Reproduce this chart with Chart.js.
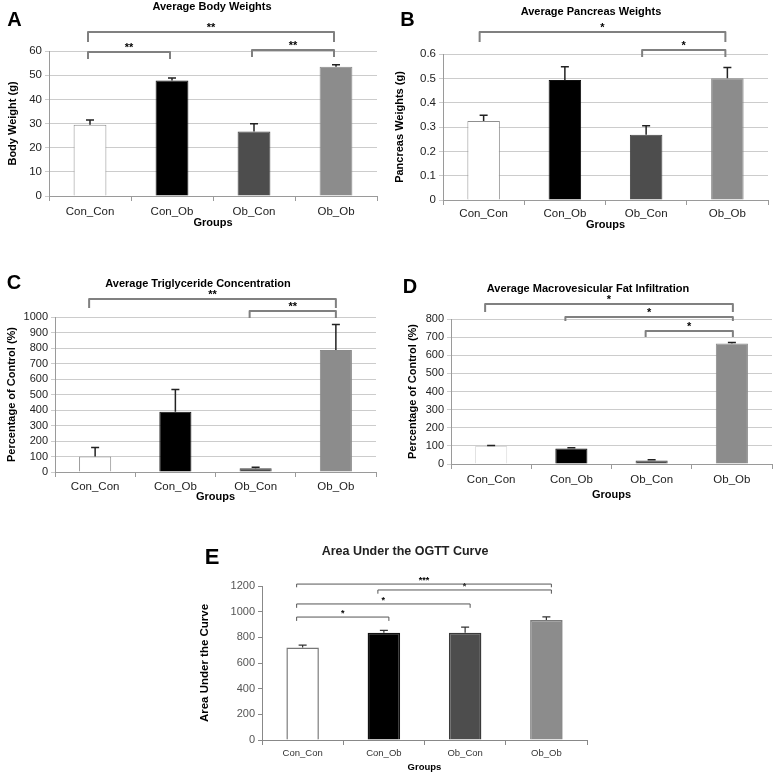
<!DOCTYPE html>
<html><head><meta charset="utf-8">
<script src="https://cdn.jsdelivr.net/npm/chart.js@4"></script>
<style>
html,body{margin:0;padding:0;background:#fff;}
#wrap{position:relative;width:776px;height:777px;overflow:hidden;background:#fff;}
canvas{position:absolute;}
</style></head><body>
<div id="wrap">
<canvas id="cA" width="385" height="235" style="left:0px;top:0px"></canvas>
<canvas id="cB" width="391" height="235" style="left:385px;top:0px"></canvas>
<canvas id="cC" width="385" height="260" style="left:0px;top:250px"></canvas>
<canvas id="cD" width="391" height="260" style="left:385px;top:250px"></canvas>
<canvas id="cE" width="420" height="247" style="left:180px;top:530px"></canvas>
</div>
<script>
// ---- data ----
const categories = ['Con_Con', 'Con_Ob', 'Ob_Con', 'Ob_Ob'];

const bodyWeight = [29.5, 47.8, 26.7, 53.5];
const bodyWeightErr = [2.0, 1.0, 3.2, 0.8];
const bodyWeightSig = [[0, 3, '**'], [0, 1, '**'], [2, 3, '**']];

const pancreasWeight = [0.325, 0.493, 0.268, 0.500];
const pancreasErr = [0.023, 0.055, 0.037, 0.045];
const pancreasSig = [[0, 3, '*'], [2, 3, '*']];

const triglyceride = [100, 388, 25, 787];
const triglycerideErr = [58, 144, 6, 165];
const triglycerideSig = [[0, 3, '**'], [2, 3, '**']];

const fatInfiltration = [100, 85, 20, 665];
const fatInfiltrationErr = [2, 4, 3, 5];
const fatInfiltrationSig = [[0, 3, '*'], [1, 3, '*'], [2, 3, '*']];

const ogttAuc = [720, 835, 835, 935];
const ogttAucErr = [20, 20, 45, 25];
const ogttAucSig = [[0, 1, '*'], [0, 2, '*'], [1, 3, '*'], [0, 3, '***']];

const bodyWeightTicks = {max: 60, step: 10, digits: 0};
const pancreasTicks = {max: 0.6, step: 0.1, digits: 1};
const triglycerideTicks = {max: 1000, step: 100, digits: 0};
const fatInfiltrationTicks = {max: 800, step: 100, digits: 0};
const ogttAucTicks = {max: 1200, step: 200, digits: 0};

// ---- style ----
const FAMILY = '"Liberation Sans", Arial, Helvetica, sans-serif';
Chart.defaults.font.family = FAMILY;
const barFill = ['#ffffff', '#000000', '#4d4d4d', '#8c8c8c'];

function makeDecor(cfg) {
  return {
    id: 'panelDecor',
    afterDatasetsDraw(chart) {
      const ctx = chart.ctx;
      const meta = chart.getDatasetMeta(0);
      const ys = chart.scales.y;
      ctx.save();
      ctx.strokeStyle = cfg.errColor;
      ctx.lineWidth = cfg.errWidth;
      meta.data.forEach((bar, i) => {
        const yTop = ys.getPixelForValue(cfg.values[i] + cfg.errors[i]);
        ctx.beginPath();
        ctx.moveTo(bar.x, bar.y);
        ctx.lineTo(bar.x, yTop);
        ctx.moveTo(bar.x - cfg.cap, yTop);
        ctx.lineTo(bar.x + cfg.cap, yTop);
        ctx.stroke();
      });
      ctx.restore();
    },
    afterDraw(chart) {
      const ctx = chart.ctx;
      const xs = chart.scales.x, ys = chart.scales.y;
      ctx.save();
      // brackets
      ctx.strokeStyle = cfg.sigColor;
      ctx.lineWidth = cfg.sigWidth;
      ctx.lineJoin = 'round';
      ctx.fillStyle = '#000';
      ctx.font = 'bold ' + cfg.starSize + 'px ' + FAMILY;
      ctx.textAlign = 'center';
      ctx.textBaseline = 'alphabetic';
      cfg.sig.forEach((s, k) => {
        const lv = cfg.sigLevels[k];
        const x1 = xs.getPixelForValue(s[0]) + cfg.sigShift[0];
        const x2 = xs.getPixelForValue(s[1]) + cfg.sigShift[1];
        const y = ys.getPixelForValue(lv[0]);
        const yd = ys.getPixelForValue(lv[1]);
        ctx.beginPath();
        ctx.moveTo(x1, yd); ctx.lineTo(x1, y); ctx.lineTo(x2, y); ctx.lineTo(x2, yd);
        ctx.stroke();
        ctx.fillText(s[2], (x1 + x2) / 2, y - cfg.starGap);
      });
      // title
      ctx.fillStyle = cfg.titleColor;
      ctx.font = 'bold ' + cfg.titleSize + 'px ' + FAMILY;
      ctx.textBaseline = 'middle';
      ctx.fillText(cfg.title, cfg.titlePos[0], cfg.titlePos[1]);
      // panel letter
      ctx.fillStyle = '#000';
      ctx.font = 'bold ' + cfg.letterSize + 'px ' + FAMILY;
      ctx.fillText(cfg.letter, cfg.letterPos[0], cfg.letterPos[1]);
      ctx.restore();
    }
  };
}

function makePanel(id, cfg) {
  return new Chart(document.getElementById(id), {
    type: 'bar',
    data: {
      labels: categories,
      datasets: [{
        data: cfg.values,
        backgroundColor: barFill,
        borderColor: cfg.borders,
        borderWidth: cfg.borderWidth,
        barPercentage: 0.5,
        categoryPercentage: 0.8
      }]
    },
    options: {
      responsive: false,
      animation: false,
      events: [],
      layout: {padding: {top: cfg.padTop, right: cfg.padRight, left: 0, bottom: 0}},
      plugins: {legend: {display: false}, tooltip: {enabled: false}, title: {display: false}},
      scales: {
        x: {
          grid: {display: true, drawOnChartArea: false, drawTicks: true, tickLength: 5, color: cfg.axisColor, offset: true},
          border: {color: cfg.axisColor, width: 1},
          ticks: {font: {size: cfg.xFont}, color: cfg.tickColor, padding: cfg.xPad, maxRotation: 0, autoSkip: false},
          title: {display: true, text: 'Groups', color: '#000', font: {size: cfg.xTitleSize, weight: 'bold'}, padding: {top: 0, bottom: cfg.xTitlePad}},
          afterFit: s => { s.height = cfg.xH; }
        },
        y: {
          min: 0, max: cfg.ticks.max,
          ticks: {stepSize: cfg.ticks.step, autoSkip: false, font: {size: cfg.yFont}, color: cfg.yTickColor, padding: 3,
            callback: v => String(Number(Number(v).toFixed(cfg.ticks.digits)))},
          grid: {color: cfg.gridColor, drawOnChartArea: cfg.gridOn, tickLength: 4, lineWidth: 1},
          border: {color: cfg.axisColor, width: 1},
          title: {display: true, text: cfg.yTitle, color: '#000', font: {size: cfg.yTitleSize, weight: 'bold'}, padding: {top: cfg.yTitlePad, bottom: 0}},
          afterFit: s => { s.width = cfg.yW; }
        }
      }
    },
    plugins: [makeDecor(cfg)]
  });
}

const base = {
  borders: ['#8f8f8f', '#111111', '#444444', '#8a8a8a'], borderWidth: 1,
  axisColor: '#9a9a9a', gridColor: '#cccccc', gridOn: true,
  tickColor: '#222', yTickColor: '#222', xFont: 11.5, yFont: 11.5,
  xTitleSize: 11, yTitleSize: 11,
  errColor: '#222', errWidth: 1.5, cap: 4,
  sigColor: '#808080', sigWidth: 2, starSize: 11, starGap: 1, sigShift: [0, 0],
  titleColor: '#000', titleSize: 11, letterSize: 20
};

makePanel('cA', Object.assign({}, base, {
  values: bodyWeight, errors: bodyWeightErr, sig: bodyWeightSig, ticks: bodyWeightTicks,
  sigLevels: [[67.9, 63.7], [59.6, 56.7], [60.4, 57.5]],
  yTitle: 'Body Weight (g)', title: 'Average Body Weights', titlePos: [212, 7], letter: 'A', letterPos: [14.5, 20],
  padTop: 51, padRight: 8, yW: 49, xH: 39, xPad: 4, xTitlePad: 5.4, yTitlePad: 6.4, sigShift: [-2, -2]
}));

makePanel('cB', Object.assign({}, base, {
  values: pancreasWeight, errors: pancreasErr, sig: pancreasSig, ticks: pancreasTicks,
  sigLevels: [[0.690, 0.649], [0.616, 0.588]],
  yTitle: 'Pancreas Weights (g)', title: 'Average Pancreas Weights', titlePos: [206, 12], letter: 'B', letterPos: [22.5, 20],
  padTop: 54, padRight: 8, yW: 58, xH: 35, xPad: 2, xTitlePad: 3.4, yTitlePad: 8.4, sigShift: [-4, -2]
}));

makePanel('cC', Object.assign({}, base, {
  values: triglyceride, errors: triglycerideErr, sig: triglycerideSig, ticks: triglycerideTicks,
  sigLevels: [[1116, 1058], [1038, 994]], xFont: 11.5, yFont: 11,
  yTitle: 'Percentage of Control (%)', title: 'Average Triglyceride Concentration', titlePos: [198, 34], letter: 'C', letterPos: [14, 33],
  padTop: 67, padRight: 9, yW: 55, xH: 38, xPad: 3, xTitlePad: 6.4, yTitlePad: 5.4, sigShift: [-6, 0]
}));

makePanel('cD', Object.assign({}, base, {
  values: fatInfiltration, errors: fatInfiltrationErr, sig: fatInfiltrationSig, ticks: fatInfiltrationTicks,
  sigLevels: [[883, 839], [811, 789], [734, 701]], xFont: 11.5, yFont: 11,
  borders: ['#dddddd', '#111111', '#444444', '#8a8a8a'],
  yTitle: 'Percentage of Control (%)', title: 'Average Macrovesicular Fat Infiltration', titlePos: [203, 39], letter: 'D', letterPos: [25, 37],
  padTop: 69, padRight: 4, yW: 66, xH: 46, xPad: 4, xTitlePad: 8.4, yTitlePad: 21.4, sigShift: [-6, 1]
}));

makePanel('cE', Object.assign({}, base, {
  values: ogttAuc, errors: ogttAucErr, sig: ogttAucSig, ticks: ogttAucTicks,
  sigLevels: [[958, 928], [1060, 1030], [1169, 1140], [1215, 1190]],
  borders: ['#777777', '#111111', '#3a3a3a', '#7a7a7a'], borderWidth: 1.5,
  axisColor: '#888888', gridOn: false, gridColor: '#888888',
  tickColor: '#333', yTickColor: '#555', xFont: 9.5, yFont: 11,
  xTitleSize: 9.5, yTitleSize: 11.5,
  errColor: '#333', errWidth: 1.2, cap: 4,
  sigColor: '#555555', sigWidth: 1, starSize: 9, starGap: 1, sigShift: [-6, 5],
  titleColor: '#222', titleSize: 12.5, letterSize: 22,
  yTitle: 'Area Under the Curve', title: 'Area Under the OGTT Curve', titlePos: [225, 22], letter: 'E', letterPos: [32, 28],
  padTop: 56, padRight: 13, yW: 82, xH: 37, xPad: 3, xTitlePad: 4.3, yTitlePad: 18
}));
</script>
</body></html>
